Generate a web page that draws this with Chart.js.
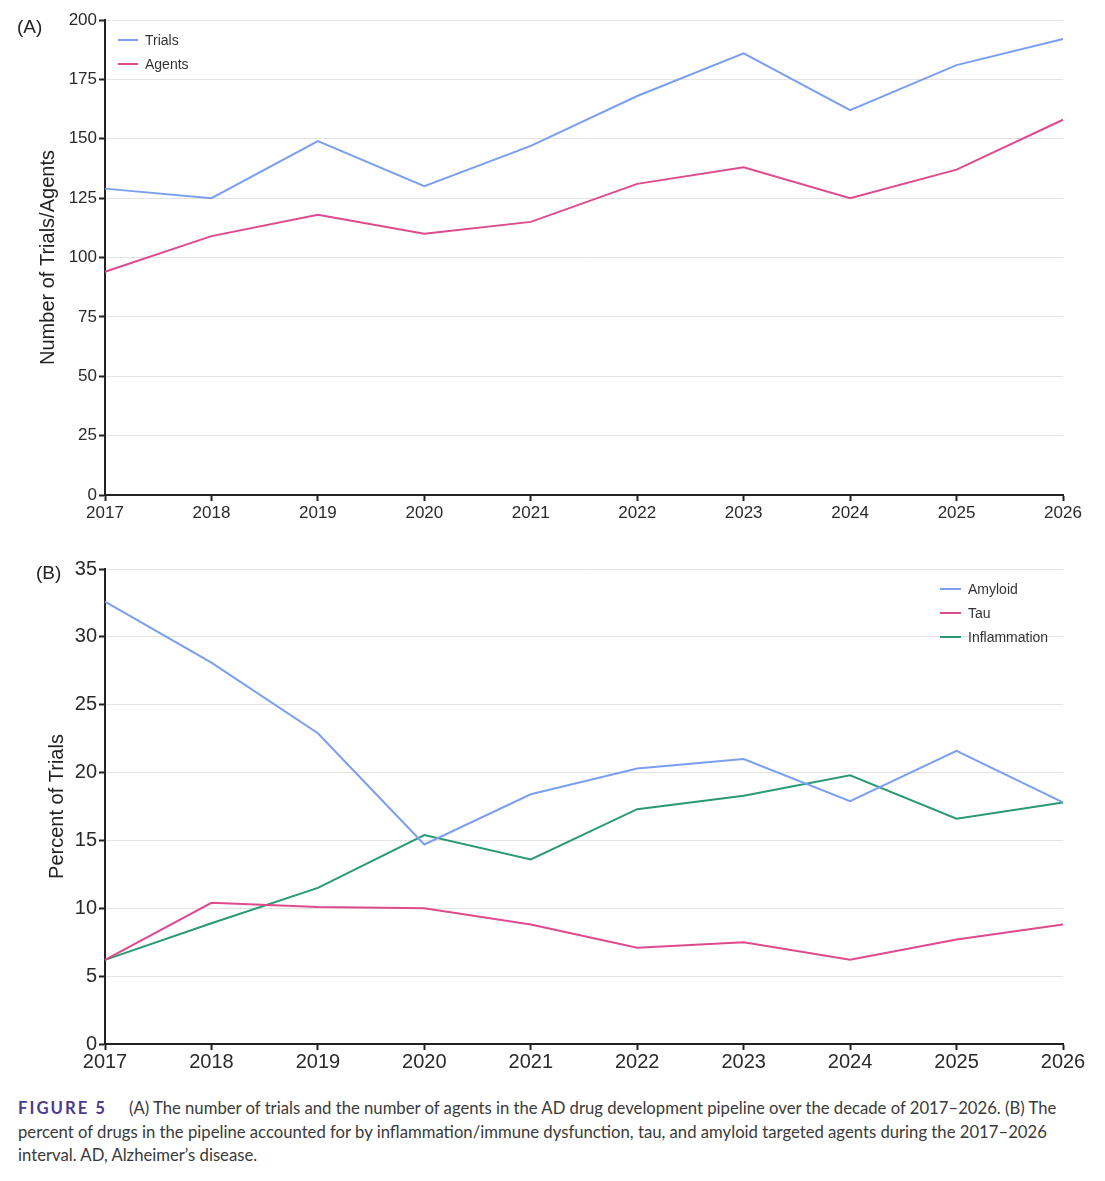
<!DOCTYPE html>
<html>
<head>
<meta charset="utf-8">
<script src="https://cdn.jsdelivr.net/npm/chart.js@4.4.1/dist/chart.umd.min.js"></script>
<style>
  body { margin: 0; background: #fff; width: 1105px; height: 1181px; position: relative; overflow: hidden; }
  canvas { position: absolute; left: 0; }
  #cA { top: 0; }
  #cB { top: 540px; }
  .panel { position: absolute; font-family: "Liberation Sans", Arial, sans-serif; color: #222; font-size: 19px; }
  #lblA { left: 17px; top: 16px; }
  #lblB { left: 36px; top: 562px; }
  #caption { position: absolute; left: 18px; top: 1097px; width: 1085px;
    font-family: Lato, "Open Sans", sans-serif; font-size: 16.7px; line-height: 23.5px; color: #3a3a3a; white-space: nowrap; }
  #caption b { color: #4a3b8f; letter-spacing: 2px; font-weight: 700; margin-right: 22px; }
</style>
</head>
<body>
<canvas id="cA" width="1105" height="530"></canvas>
<canvas id="cB" width="1105" height="545"></canvas>
<div class="panel" id="lblA">(A)</div>
<div class="panel" id="lblB">(B)</div>
<div id="caption"><b>FIGURE 5</b>(A) The number of trials and the number of agents in the AD drug development pipeline over the decade of 2017–2026. (B) The<br>percent of drugs in the pipeline accounted for by inflammation/immune dysfunction, tau, and amyloid targeted agents during the 2017–2026<br>interval. AD, Alzheimer’s disease.</div>
<script>
const years = ['2017', '2018', '2019', '2020', '2021', '2022', '2023', '2024', '2025', '2026'];

// panel A
const trials = [129, 125, 149, 130, 147, 168, 186, 162, 181, 192];
const agents = [94, 109, 118, 110, 115, 131, 138, 125, 137, 158];

// panel B (percent)
const amyloid = [32.6, 28.1, 22.9, 14.7, 18.4, 20.3, 21.0, 17.9, 21.6, 17.8];
const tau = [6.2, 10.4, 10.1, 10.0, 8.8, 7.1, 7.5, 6.2, 7.7, 8.8];
const inflammation = [6.2, 8.9, 11.5, 15.4, 13.6, 17.3, 18.3, 19.8, 16.6, 17.8];

const BLUE = '#7b9ff0';
const PINK = '#dd4a8e';
const GREEN = '#2a9a70';

// legend drawn inside the plot area, vertical list
const innerLegend = {
  id: 'innerLegend',
  afterDraw(chart, args, opts) {
    const ctx = chart.ctx;
    ctx.save();
    ctx.font = opts.font;
    ctx.textBaseline = 'middle';
    chart.data.datasets.forEach((ds, i) => {
      const y = opts.y + i * opts.gap;
      ctx.strokeStyle = ds.borderColor;
      ctx.lineWidth = 2;
      ctx.beginPath();
      ctx.moveTo(opts.x, y);
      ctx.lineTo(opts.x + opts.len, y);
      ctx.stroke();
      ctx.fillStyle = '#333';
      ctx.fillText(ds.label, opts.x + opts.len + 7, y + 1);
    });
    ctx.restore();
  }
};

function makeChart(id, datasets, yMax, yStep, yTitle, fontSize, xPad, titlePad, pad, legend, yWidth, xHeight) {
  return new Chart(document.getElementById(id), {
    type: 'line',
    data: { labels: years, datasets: datasets },
    plugins: [innerLegend],
    options: {
      responsive: false,
      animation: false,
      layout: { padding: pad },
      elements: { point: { radius: 0 }, line: { borderWidth: 2, tension: 0 } },
      plugins: {
        legend: { display: false },
        tooltip: { enabled: false },
        innerLegend: legend
      },
      scales: {
        x: {
          grid: { drawOnChartArea: false, drawTicks: true, tickLength: 6, tickColor: '#222', tickWidth: 2 },
          border: { color: '#222', width: 2 },
          ticks: { color: '#2a2a2a', font: { family: 'Liberation Sans', size: fontSize }, padding: xPad, maxRotation: 0 },
          afterFit(s) { s.height = xHeight; }
        },
        y: {
          min: 0, max: yMax,
          grid: { color: '#e3e3e3', lineWidth: 1, tickLength: 6, tickColor: '#222', tickWidth: 2 },
          border: { color: '#222', width: 2 },
          ticks: { stepSize: yStep, color: '#2a2a2a', font: { family: 'Liberation Sans', size: fontSize }, padding: 2 },
          title: { display: true, text: yTitle, color: '#222', font: { family: 'Liberation Sans', size: 20 }, padding: { top: titlePad, bottom: 0 } },
          afterFit(s) { s.width = yWidth; }
        }
      }
    }
  });
}

makeChart('cA', [
  { label: 'Trials', data: trials, borderColor: BLUE, backgroundColor: BLUE },
  { label: 'Agents', data: agents, borderColor: PINK, backgroundColor: PINK }
], 200, 25, 'Number of Trials/Agents', 17, 2, 36, { top: 20, right: 42, left: 0, bottom: 0 },
  { x: 118, y: 40, gap: 24, len: 20, font: '14px "Liberation Sans"' }, 105, 35);

makeChart('cB', [
  { label: 'Amyloid', data: amyloid, borderColor: BLUE, backgroundColor: BLUE },
  { label: 'Tau', data: tau, borderColor: PINK, backgroundColor: PINK },
  { label: 'Inflammation', data: inflammation, borderColor: GREEN, backgroundColor: GREEN }
], 35, 5, 'Percent of Trials', 20, 0, 45, { top: 29, right: 42, left: 0, bottom: 0 },
  { x: 940, y: 49, gap: 24, len: 21, font: '14px "Liberation Sans"' }, 105, 41);
</script>
</body>
</html>
